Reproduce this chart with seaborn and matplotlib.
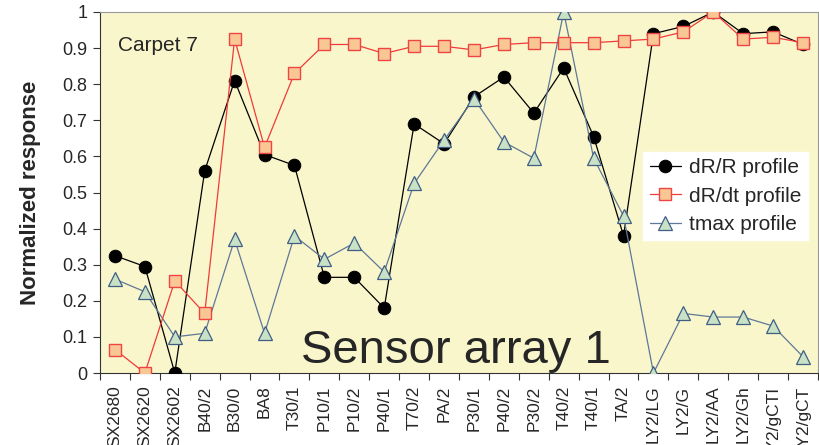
import numpy as np
import pandas as pd
import matplotlib
matplotlib.use("Agg")
import matplotlib.pyplot as plt
import seaborn as sns
from matplotlib.ticker import FixedLocator

sensors = ["SX2680", "SX2620", "SX2602", "B40/2", "B30/0", "BA8", "T30/1", "P10/1",
           "P10/2", "P40/1", "T70/2", "PA/2", "P30/1", "P40/2", "P30/2", "T40/2",
           "T40/1", "TA/2", "LY2/LG", "LY2/G", "LY2/AA", "LY2/Gh", "LY2/gCTI", "LY2/gCT"]

drr = [0.325, 0.295, 0.0, 0.56, 0.81, 0.605, 0.575, 0.265, 0.265, 0.18, 0.69, 0.635,
       0.765, 0.82, 0.72, 0.845, 0.655, 0.38, 0.94, 0.96, 1.0, 0.94, 0.945, 0.91]
drdt = [0.065, 0.0, 0.255, 0.165, 0.925, 0.625, 0.83, 0.91, 0.91, 0.885, 0.905, 0.905,
        0.895, 0.91, 0.915, 0.915, 0.915, 0.92, 0.925, 0.945, 1.0, 0.925, 0.93, 0.915]
tmax = [0.26, 0.225, 0.1, 0.11, 0.37, 0.11, 0.38, 0.315, 0.36, 0.28, 0.525, 0.645,
        0.76, 0.64, 0.595, 1.0, 0.595, 0.435, 0.0, 0.165, 0.155, 0.155, 0.13, 0.045]

yticks = [0, 0.1, 0.2, 0.3, 0.4, 0.5, 0.6, 0.7, 0.8, 0.9, 1.0]
ytick_labels = ["0", "0.1", "0.2", "0.3", "0.4", "0.5", "0.6", "0.7", "0.8", "0.9", "1"]

df = pd.DataFrame({"pos": np.arange(len(sensors)), "sensor": sensors,
                   "drr": drr, "drdt": drdt, "tmax": tmax})

sns.set_style("ticks")
plt.rcParams["font.family"] = ["Liberation Sans", "DejaVu Sans"]

fig = plt.figure(figsize=(8.2, 4.45), dpi=100)
ax = fig.add_axes([100 / 820, 1 - 373 / 445, 718 / 820, 361 / 445])
ax.set_facecolor("#FAF6CC")

# circles first, squares drawn on top
sns.lineplot(data=df, x="pos", y="drr", ax=ax, color="black", lw=0.9,
             marker="o", markersize=9, markerfacecolor="black",
             markeredgecolor="black", label="dR/R profile", zorder=3)
sns.lineplot(data=df, x="pos", y="tmax", ax=ax, color="#5E7898", lw=0.9,
             marker="^", markersize=10, markerfacecolor="#C9E2C6",
             markeredgecolor="#3F5E86", markeredgewidth=0.9,
             label="tmax profile", zorder=4)
sns.lineplot(data=df, x="pos", y="drdt", ax=ax, color="#F03A3A", lw=0.9,
             marker="s", markersize=9, markerfacecolor="#F9C794",
             markeredgecolor="#EE4444", markeredgewidth=1.0,
             label="dR/dt profile", zorder=5)

ax.set_xlim(-0.5, len(sensors) - 0.5)
ax.set_ylim(0, 1)
ax.set_yticks(yticks)
ax.set_yticklabels(ytick_labels)
ax.set_xticks(df["pos"])
ax.set_xticklabels(sensors, rotation=90, fontsize=12.5)
ax.xaxis.set_minor_locator(FixedLocator(np.arange(-0.5, len(sensors), 1.0)))
ax.tick_params(axis="x", which="major", length=0, pad=9)
ax.tick_params(axis="x", which="minor", length=5, width=0.8, color="#333333")
ax.tick_params(axis="y", length=5, width=0.8, color="#333333", labelsize=13, pad=4)
ax.set_xlabel("")
ax.set_ylabel("Normalized response", fontsize=16, fontweight="bold")
ax.yaxis.set_label_coords(-0.082, 0.5)

for side in ["top", "right"]:
    ax.spines[side].set_color("#999999")
for side in ["left", "bottom"]:
    ax.spines[side].set_color("#333333")

ax.text(0.025, 0.893, "Carpet 7", transform=ax.transAxes, fontsize=15)
ax.text(0.496, 0.028, "Sensor array 1", transform=ax.transAxes, fontsize=34,
        ha="center", va="baseline")

handles, labels = ax.get_legend_handles_labels()
order = [labels.index(l) for l in ["dR/R profile", "dR/dt profile", "tmax profile"]]
leg = ax.legend([handles[i] for i in order], [labels[i] for i in order],
                loc="upper right", bbox_to_anchor=(0.986, 0.612), fontsize=15,
                frameon=True, fancybox=False, framealpha=1, edgecolor="white",
                handlelength=1.5, handletextpad=0.4, labelspacing=0.45,
                borderpad=0.3, borderaxespad=0)

fig.savefig("out.png", dpi=100)
